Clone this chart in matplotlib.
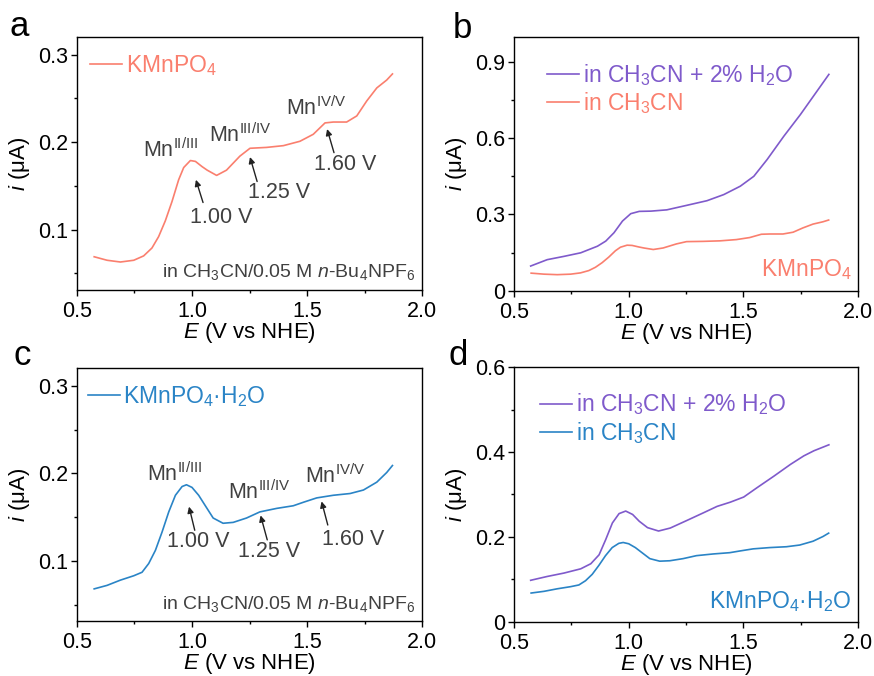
import numpy as np
import matplotlib
matplotlib.use("Agg")
import matplotlib.pyplot as plt
from matplotlib.ticker import FuncFormatter, MultipleLocator

plt.rcParams["font.family"] = ["Liberation Sans", "DejaVu Sans"]
plt.rcParams["mathtext.fontset"] = "custom"
plt.rcParams["mathtext.rm"] = "Liberation Sans"
plt.rcParams["mathtext.it"] = "Liberation Sans:italic"
plt.rcParams["font.size"] = 15.5

SALMON = "#FA7F6E"
PURPLE = "#7F5ACB"
BLUE = "#2A84C6"
GRAY = "#404040"

# KMnPO4 in CH3CN (panels a and b)
e_kmn = [0.575, 0.631, 0.689, 0.747, 0.790, 0.826, 0.855, 0.884, 0.913, 0.942,
         0.964, 0.993, 1.015, 1.044, 1.066, 1.107, 1.150, 1.208, 1.252, 1.324,
         1.397, 1.469, 1.527, 1.578, 1.614, 1.672, 1.716, 1.759, 1.803, 1.846,
         1.871]
i_kmn = [0.069, 0.065, 0.063, 0.065, 0.070, 0.079, 0.092, 0.110, 0.132, 0.157,
         0.171, 0.179, 0.178, 0.172, 0.168, 0.162, 0.168, 0.184, 0.193, 0.194,
         0.196, 0.201, 0.209, 0.222, 0.223, 0.223, 0.230, 0.247, 0.262, 0.271,
         0.278]

# KMnPO4 in CH3CN + 2% H2O (panel b)
e_kmn_w = [0.573, 0.645, 0.718, 0.791, 0.864, 0.900, 0.936, 0.973, 1.009, 1.046,
           1.097, 1.166, 1.254, 1.341, 1.414, 1.486, 1.545, 1.603, 1.676, 1.748,
           1.821, 1.872]
i_kmn_w = [0.097, 0.122, 0.135, 0.149, 0.175, 0.195, 0.228, 0.274, 0.303, 0.312,
           0.313, 0.318, 0.336, 0.354, 0.378, 0.411, 0.450, 0.516, 0.608, 0.693,
           0.786, 0.851]

# KMnPO4·H2O in CH3CN (panels c and d)
e_hyd = [0.575, 0.631, 0.689, 0.747, 0.783, 0.812, 0.841, 0.870, 0.899, 0.928,
         0.957, 0.976, 1.000, 1.029, 1.058, 1.092, 1.135, 1.179, 1.237, 1.295,
         1.368, 1.440, 1.484, 1.542, 1.614, 1.687, 1.745, 1.803, 1.846, 1.871]
i_hyd = [0.068, 0.072, 0.078, 0.083, 0.087, 0.097, 0.112, 0.133, 0.156, 0.175,
         0.185, 0.187, 0.184, 0.175, 0.163, 0.149, 0.143, 0.144, 0.149, 0.156,
         0.160, 0.163, 0.167, 0.172, 0.175, 0.177, 0.181, 0.190, 0.201, 0.209]

# KMnPO4·H2O in CH3CN + 2% H2O (panel d)
e_hyd_w = [0.573, 0.645, 0.718, 0.791, 0.835, 0.871, 0.900, 0.929, 0.958, 0.987,
           1.017, 1.046, 1.082, 1.130, 1.181, 1.254, 1.326, 1.385, 1.443, 1.501,
           1.559, 1.632, 1.705, 1.763, 1.807, 1.872]
i_hyd_w = [0.098, 0.107, 0.115, 0.125, 0.137, 0.158, 0.194, 0.233, 0.255, 0.261,
           0.253, 0.237, 0.222, 0.214, 0.221, 0.239, 0.257, 0.272, 0.282, 0.294,
           0.316, 0.343, 0.371, 0.391, 0.403, 0.417]

# peak labels: (text, x, y) and voltage labels with arrows (tail, head)
peaks_a = [("Mn$^{\\mathregular{II/III}}$", 0.908, 0.177),
           ("Mn$^{\\mathregular{III/IV}}$", 1.208, 0.194),
           ("Mn$^{\\mathregular{IV/V}}$", 1.538, 0.225)]
volts_a = [("1.00 V", 1.125, 0.102, (1.048, 0.131), (1.017, 0.157)),
           ("1.25 V", 1.379, 0.130, (1.283, 0.155), (1.252, 0.183)),
           ("1.60 V", 1.664, 0.162, (1.617, 0.188), (1.587, 0.215))]
peaks_c = [("Mn$^{\\mathregular{II/III}}$", 0.925, 0.186),
           ("Mn$^{\\mathregular{III/IV}}$", 1.294, 0.165),
           ("Mn$^{\\mathregular{IV/V}}$", 1.621, 0.183)]
volts_c = [("1.00 V", 1.028, 0.110, (1.012, 0.135), (0.987, 0.162)),
           ("1.25 V", 1.336, 0.099, (1.327, 0.124), (1.298, 0.152)),
           ("1.60 V", 1.701, 0.112, (1.590, 0.141), (1.563, 0.168))]

KMN = "KMnPO$_\\mathregular{4}$"
HYD = "KMnPO$_\\mathregular{4}$·H$_\\mathregular{2}$O"
SOLV = "in CH$_\\mathregular{3}$CN"
SOLV_W = "in CH$_\\mathregular{3}$CN + 2% H$_\\mathregular{2}$O"
ELECTROLYTE = "in CH$_\\mathregular{3}$CN/0.05 M $n$-Bu$_\\mathregular{4}$NPF$_\\mathregular{6}$"


def _fmt(v, pos):
    return "0" if abs(v) < 1e-9 else f"{v:.1f}"


def _style(ax, ylim, ymajor):
    ax.set_xlim(0.5, 2.0)
    ax.set_ylim(*ylim)
    ax.xaxis.set_major_locator(MultipleLocator(0.5))
    ax.xaxis.set_minor_locator(MultipleLocator(0.25))
    ax.yaxis.set_major_locator(MultipleLocator(ymajor))
    ax.yaxis.set_minor_locator(MultipleLocator(ymajor / 2))
    ax.xaxis.set_major_formatter(FuncFormatter(lambda v, p: f"{v:.1f}"))
    ax.yaxis.set_major_formatter(FuncFormatter(_fmt))
    ax.tick_params(which="major", direction="out", length=4, width=1)
    ax.tick_params(axis="x", which="major", pad=4)
    ax.tick_params(axis="y", which="major", pad=2)
    ax.tick_params(which="minor", direction="out", length=2.5, width=1)
    for s in ax.spines.values():
        s.set_linewidth(1)
    ax.set_xlabel("$E$ (V vs NHE)", fontsize=16)
    ax.set_ylabel("$i$ (μA)", fontsize=16)
    ax.xaxis.set_label_coords(0.5, -0.118)
    ax.yaxis.set_label_coords(-0.13, 0.5)


def _annotate(ax, peaks, volts):
    for txt, x, y in peaks:
        ax.text(x, y, txt, ha="center", va="bottom", color=GRAY)
    for txt, x, y, tail, head in volts:
        ax.text(x, y, txt, ha="center", va="bottom", color=GRAY)
        ax.annotate("", xy=head, xytext=tail,
                    arrowprops=dict(arrowstyle="-|>", color="#222222", lw=1,
                                    mutation_scale=9, shrinkA=0, shrinkB=0))


def _legend(ax, anchor):
    ax.legend(loc="upper left", bbox_to_anchor=anchor, frameon=False,
              labelcolor="linecolor", handlelength=1.4, handletextpad=0.15,
              labelspacing=0.1, borderaxespad=0, fontsize=16.5)


fig = plt.figure(figsize=(8.74, 6.76), dpi=100)
ax_a = fig.add_axes([0.088, 0.571, 0.395, 0.374])
ax_b = fig.add_axes([0.588, 0.570, 0.394, 0.376])
ax_c = fig.add_axes([0.088, 0.081, 0.395, 0.374])
ax_d = fig.add_axes([0.588, 0.080, 0.394, 0.377])

lw = 1.2

# a
ax_a.plot(e_kmn, i_kmn, color=SALMON, lw=lw, label=KMN)
_style(ax_a, (0.031, 0.32), 0.1)
_annotate(ax_a, peaks_a, volts_a)
_legend(ax_a, (0.012, 0.975))
ax_a.text(0.98, 0.03, ELECTROLYTE, transform=ax_a.transAxes, ha="right",
          va="bottom", color=GRAY, fontsize=14)

# b
ax_b.plot(e_kmn_w, i_kmn_w, color=PURPLE, lw=lw, label=SOLV_W)
ax_b.plot(e_kmn, i_kmn, color=SALMON, lw=lw, label=SOLV)
_style(ax_b, (0, 1.0), 0.3)
_legend(ax_b, (0.07, 0.935))
ax_b.text(0.98, 0.035, KMN, transform=ax_b.transAxes, ha="right",
          va="bottom", color=SALMON, fontsize=16.5)

# c
ax_c.plot(e_hyd, i_hyd, color=BLUE, lw=lw, label=HYD)
_style(ax_c, (0.031, 0.32), 0.1)
_annotate(ax_c, peaks_c, volts_c)
_legend(ax_c, (0.005, 0.975))
ax_c.text(0.98, 0.03, ELECTROLYTE, transform=ax_c.transAxes, ha="right",
          va="bottom", color=GRAY, fontsize=14)

# d
ax_d.plot(e_hyd_w, i_hyd_w, color=PURPLE, lw=lw, label=SOLV_W)
ax_d.plot(e_hyd, i_hyd, color=BLUE, lw=lw, label=SOLV)
_style(ax_d, (0, 0.6), 0.2)
_legend(ax_d, (0.05, 0.94))
ax_d.text(0.98, 0.03, HYD, transform=ax_d.transAxes, ha="right",
          va="bottom", color=BLUE, fontsize=16.5)

for lbl, x, y in [("a", 0.011, 0.947), ("b", 0.518, 0.944),
                  ("c", 0.015, 0.460), ("d", 0.513, 0.460)]:
    fig.text(x, y, lbl, fontsize=25, ha="left", va="baseline")

fig.savefig("out.png", dpi=100)
